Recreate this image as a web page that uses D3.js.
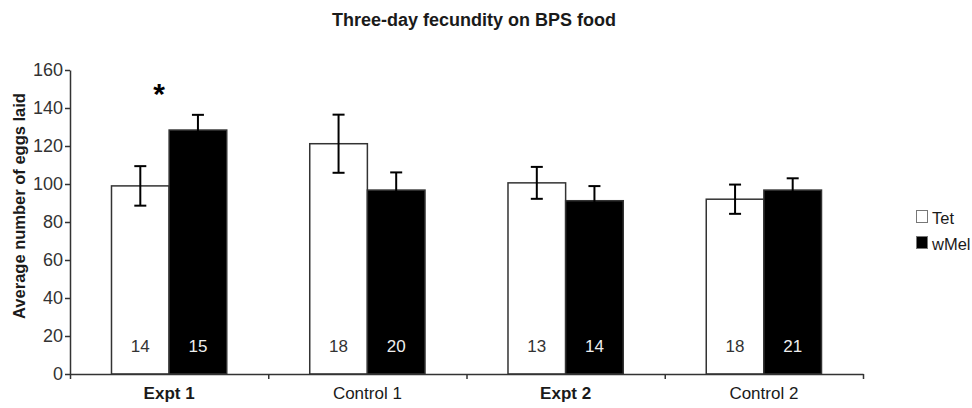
<!DOCTYPE html>
<html>
<head>
<meta charset="utf-8">
<script src="https://cdn.jsdelivr.net/npm/d3@7"></script>
<style>
  html, body { margin: 0; padding: 0; background: #fff; }
  svg { display: block; font-family: 'Liberation Sans', Arial, sans-serif; }
</style>
</head>
<body>
<div class="container-fecundity"></div>
<script>
const categories = ['Expt 1', 'Control 1', 'Expt 2', 'Control 2'];
const boldCategories = ['Expt 1', 'Expt 2'];
const series = ['Tet', 'wMel'];
const tetMeans = [99, 121.2, 100.6, 92];
const tetErrors = [10.4, 15.3, 8.4, 7.7];
const wMelMeans = [128.4, 96.8, 91.2, 96.8];
const wMelErrors = [8, 9.3, 7.7, 6.2];
const tetCounts = [14, 18, 13, 18];
const wMelCounts = [15, 20, 14, 21];
const yTicks = [0, 20, 40, 60, 80, 100, 120, 140, 160];
const significantCategories = ['Expt 1'];
const title = 'Three-day fecundity on BPS food';
const yTitle = 'Average number of eggs laid';

const width = 972;
const height = 408;
const margin = { top: 70, right: 109, bottom: 34, left: 70 };
const ink = '#1a1a1a';

const rows = categories.map((category, i) => ({
  category,
  values: [
    { key: 'Tet', mean: tetMeans[i], err: tetErrors[i], n: tetCounts[i] },
    { key: 'wMel', mean: wMelMeans[i], err: wMelErrors[i], n: wMelCounts[i] }
  ]
}));

const fillFor = key => (key === 'Tet' ? '#fff' : '#000');

const scaleX = d3.scaleBand()
  .domain(categories)
  .range([margin.left, width - margin.right])
  .paddingInner(0)
  .paddingOuter(0);

const scaleSub = d3.scaleBand()
  .domain(series)
  .range([0, scaleX.bandwidth()])
  .paddingInner(0)
  .paddingOuter(0.72);

const scaleY = d3.scaleLinear()
  .domain([0, 160])
  .range([height - margin.bottom, margin.top]);

const svg = d3.select('.container-fecundity')
  .append('svg')
  .attr('width', width)
  .attr('height', height)
  .attr('viewBox', `0 0 ${width} ${height}`);

svg.append('text')
  .attr('x', 474)
  .attr('y', 26)
  .attr('text-anchor', 'middle')
  .attr('font-size', 18)
  .attr('font-weight', 'bold')
  .attr('fill', ink)
  .text(title);

// y axis
const axisY = d3.axisLeft(scaleY)
  .tickValues(yTicks)
  .tickFormat(d3.format('d'))
  .tickSize(5)
  .tickSizeOuter(0)
  .tickPadding(2);

const groupAxisY = svg.append('g')
  .attr('transform', `translate(${margin.left},0)`)
  .call(axisY);

groupAxisY.selectAll('text')
  .attr('font-size', 18)
  .attr('font-family', "'Liberation Sans', Arial, sans-serif")
  .attr('fill', '#333');

svg.append('text')
  .attr('transform', 'translate(25, 206) rotate(-90)')
  .attr('text-anchor', 'middle')
  .attr('font-size', 16.5)
  .attr('font-weight', 'bold')
  .attr('fill', ink)
  .text(yTitle);

// bars
const groups = svg.append('g')
  .selectAll('g.group')
  .data(rows)
  .enter()
  .append('g')
  .attr('class', 'group')
  .attr('transform', d => `translate(${scaleX(d.category)},0)`);

groups.selectAll('rect.bar')
  .data(d => d.values)
  .enter()
  .append('rect')
  .attr('class', 'bar')
  .attr('x', d => scaleSub(d.key))
  .attr('y', d => scaleY(d.mean))
  .attr('width', scaleSub.bandwidth())
  .attr('height', d => scaleY(0) - scaleY(d.mean))
  .attr('fill', d => fillFor(d.key))
  .attr('stroke', '#333')
  .attr('stroke-width', 1.5);

// error bars
const errors = groups.selectAll('g.err')
  .data(d => d.values)
  .enter()
  .append('g')
  .attr('class', 'err')
  .attr('transform', d => `translate(${scaleSub(d.key) + scaleSub.bandwidth() / 2},0)`)
  .attr('stroke', '#000')
  .attr('stroke-width', 2);

errors.append('line')
  .attr('y1', d => scaleY(d.mean - d.err))
  .attr('y2', d => scaleY(d.mean + d.err));

errors.append('line')
  .attr('x1', -6).attr('x2', 6)
  .attr('y1', d => scaleY(d.mean + d.err))
  .attr('y2', d => scaleY(d.mean + d.err));

errors.append('line')
  .attr('x1', -6).attr('x2', 6)
  .attr('y1', d => scaleY(d.mean - d.err))
  .attr('y2', d => scaleY(d.mean - d.err));

// sample sizes
groups.selectAll('text.count')
  .data(d => d.values)
  .enter()
  .append('text')
  .attr('class', 'count')
  .attr('x', d => scaleSub(d.key) + scaleSub.bandwidth() / 2)
  .attr('y', scaleY(0) - 22)
  .attr('text-anchor', 'middle')
  .attr('font-size', 17)
  .attr('fill', d => (d.key === 'Tet' ? '#333' : '#eee'))
  .text(d => d.n);

// significance marks
svg.selectAll('text.sig')
  .data(significantCategories)
  .enter()
  .append('text')
  .attr('class', 'sig')
  .attr('x', d => scaleX(d) + scaleX.bandwidth() * 0.45)
  .attr('y', scaleY(142))
  .attr('text-anchor', 'middle')
  .attr('font-size', 30)
  .attr('font-weight', 'bold')
  .attr('fill', '#000')
  .text('*');

// x axis: ticks on category boundaries
const scaleEdge = d3.scaleLinear()
  .domain([0, categories.length])
  .range(scaleX.range());

const axisX = d3.axisBottom(scaleEdge)
  .tickValues(d3.range(categories.length + 1))
  .tickFormat('')
  .tickSize(5)
  .tickSizeOuter(0);

svg.append('g')
  .attr('transform', `translate(0,${scaleY(0)})`)
  .call(axisX);

svg.selectAll('.domain, .tick line')
  .attr('stroke', '#333')
  .attr('stroke-width', 1.5);

svg.selectAll('text.xlabel')
  .data(categories)
  .enter()
  .append('text')
  .attr('class', 'xlabel')
  .attr('x', d => scaleX(d) + scaleX.bandwidth() / 2)
  .attr('y', 399)
  .attr('text-anchor', 'middle')
  .attr('font-size', 17)
  .attr('font-weight', d => (boldCategories.includes(d) ? 'bold' : 'normal'))
  .attr('fill', ink)
  .text(d => d);

// legend
const legend = svg.append('g')
  .attr('transform', 'translate(916,210)');

const legendItems = legend.selectAll('g')
  .data(series)
  .enter()
  .append('g')
  .attr('transform', (d, i) => `translate(0,${i * 26})`);

legendItems.append('rect')
  .attr('x', 0.5).attr('y', 0.5)
  .attr('width', 11).attr('height', 12)
  .attr('fill', d => fillFor(d))
  .attr('stroke', '#777')
  .attr('stroke-width', 1);

legendItems.append('text')
  .attr('x', 16)
  .attr('y', 14)
  .attr('font-size', 16.5)
  .attr('fill', ink)
  .text(d => d);
</script>
</body>
</html>
